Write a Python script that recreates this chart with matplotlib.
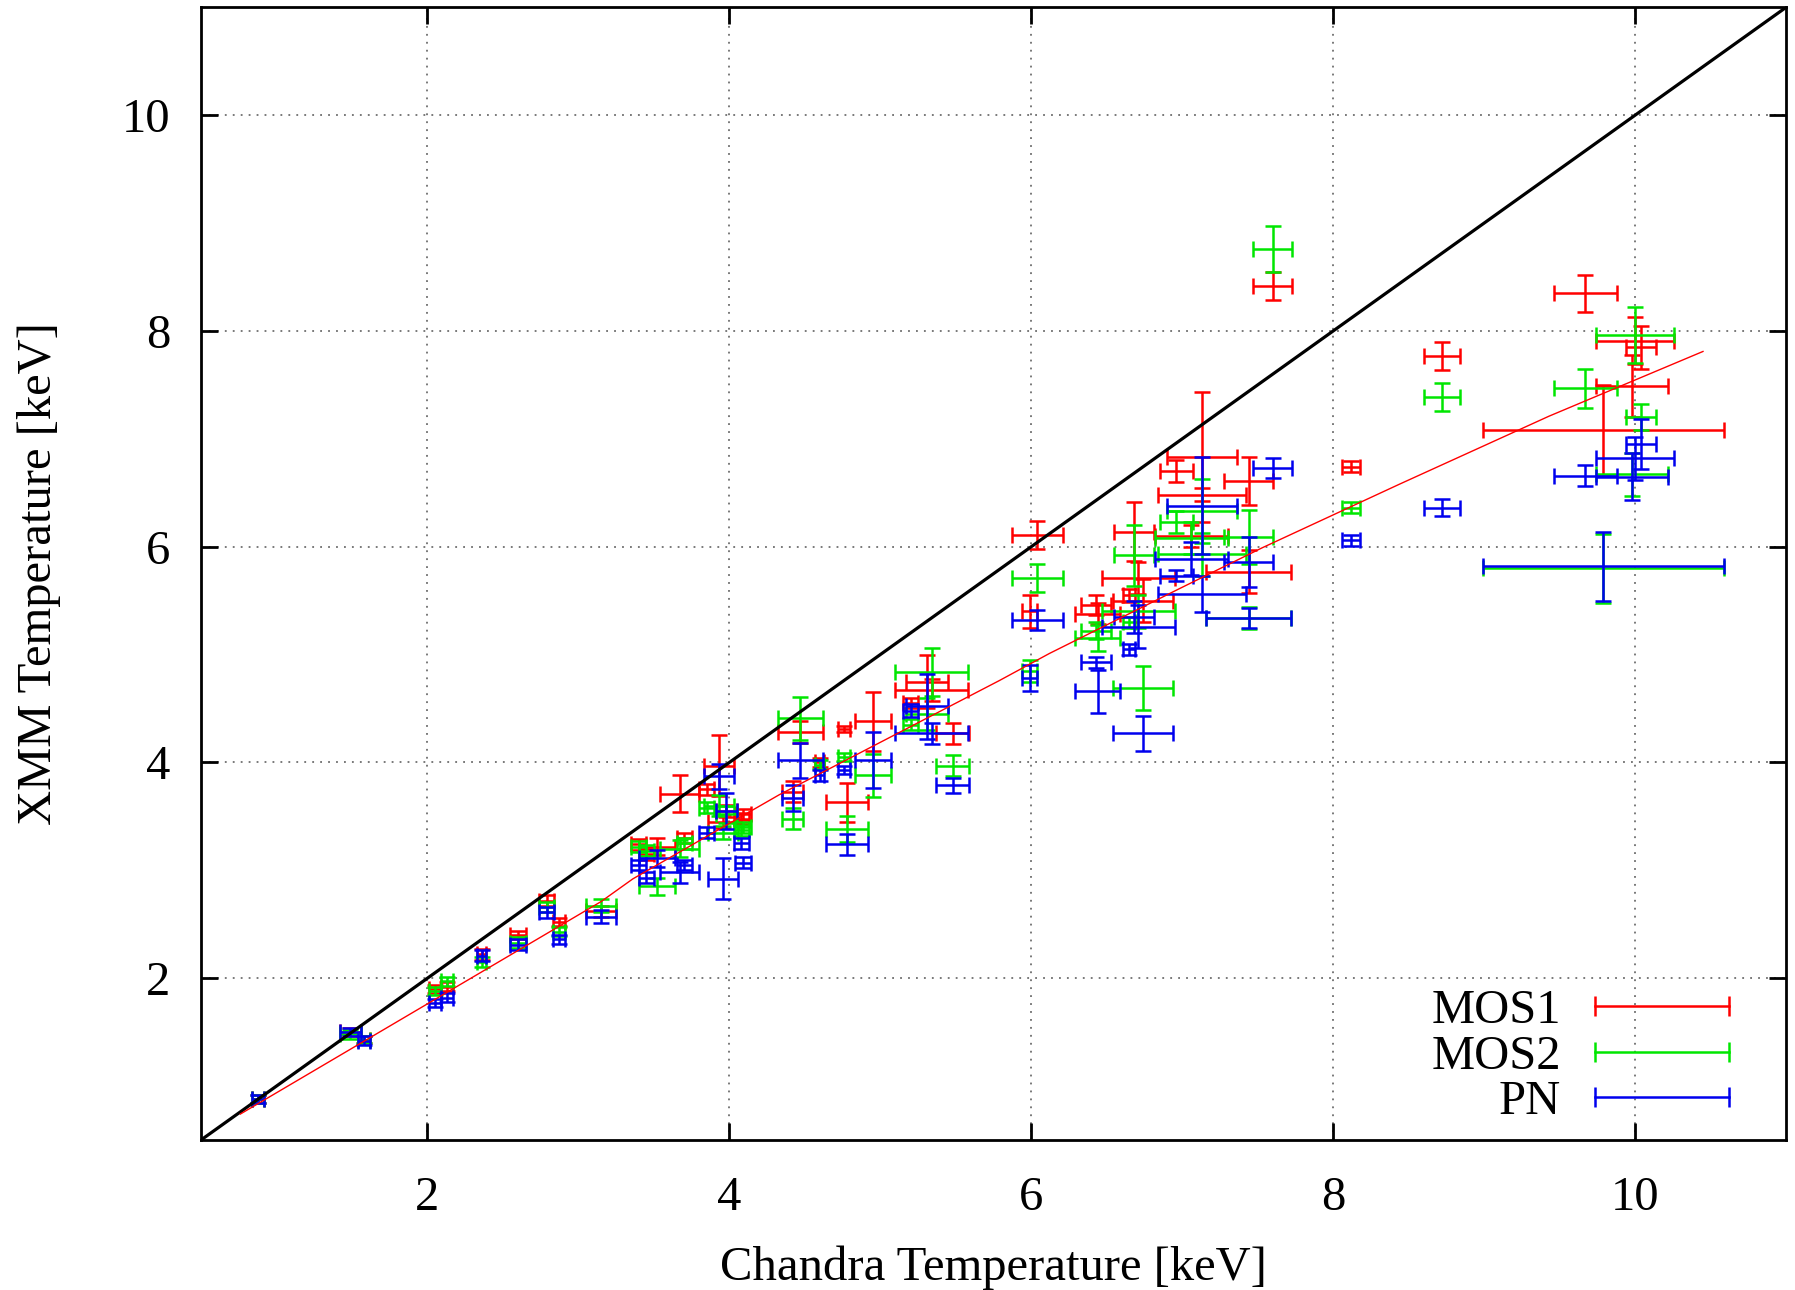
import matplotlib
matplotlib.use('Agg')
import matplotlib.pyplot as plt
from matplotlib.lines import Line2D
from matplotlib.legend_handler import HandlerLine2D

plt.rcParams['font.family'] = ['Liberation Serif', 'DejaVu Serif']

# Chandra temperature (keV) and its error, per cluster
chandra_T = [0.88, 1.49, 1.58, 2.05, 2.13, 2.36, 2.60, 2.79, 2.87, 3.15,
             3.40, 3.45, 3.52, 3.67, 3.70, 3.85, 3.93, 3.96, 3.98, 4.08,
             4.09, 4.42, 4.47, 4.60, 4.76, 4.78, 4.95, 5.20, 5.31, 5.34,
             5.48, 5.99, 6.04, 6.43, 6.44, 6.65, 6.68, 6.71, 6.74, 6.96,
             7.13, 7.13, 7.06, 7.44, 7.44, 7.60, 8.12, 8.72, 9.67, 10.00,
             9.98, 10.04, 9.79]
chandra_err = [0.04, 0.07, 0.04, 0.04, 0.04, 0.03, 0.05, 0.05, 0.04, 0.10,
               0.05, 0.05, 0.12, 0.13, 0.05, 0.05, 0.10, 0.10, 0.07, 0.05,
               0.05, 0.07, 0.15, 0.03, 0.04, 0.14, 0.12, 0.05, 0.14, 0.24,
               0.11, 0.05, 0.17, 0.10, 0.15, 0.04, 0.13, 0.24, 0.20, 0.11,
               0.23, 0.29, 0.24, 0.16, 0.28, 0.13, 0.06, 0.12, 0.21, 0.26,
               0.24, 0.10, 0.80]

# XMM MOS1
mos1_T = [0.88, 1.50, 1.43, 1.90, 1.92, 2.22, 2.40, 2.72, 2.52, 2.62,
          3.24, 3.15, 3.22, 3.71, 3.30, 3.75, 3.97, 3.45, 3.55, 3.48,
          3.52, 3.73, 4.28, 4.00, 4.31, 3.63, 4.38, 4.55, 4.75, 4.67,
          4.27, 5.40, 6.11, 5.46, 5.38, 5.55, 6.14, 5.71, 5.50, 6.70,
          6.83, 6.48, 6.10, 6.61, 5.77, 8.42, 6.74, 7.77, 8.35, 7.91,
          7.49, 7.85, 7.08]
mos1_err = [0.04, 0.04, 0.03, 0.04, 0.04, 0.05, 0.04, 0.05, 0.04, 0.05,
            0.05, 0.05, 0.08, 0.17, 0.05, 0.05, 0.28, 0.06, 0.06, 0.05,
            0.05, 0.10, 0.10, 0.04, 0.03, 0.18, 0.27, 0.05, 0.25, 0.10,
            0.10, 0.15, 0.13, 0.09, 0.10, 0.06, 0.27, 0.15, 0.20, 0.10,
            0.60, 0.06, 0.10, 0.22, 0.20, 0.13, 0.05, 0.13, 0.17, 0.22,
            0.29, 0.20, 0.42]

# XMM MOS2
mos2_T = [0.88, 1.48, 1.43, 1.88, 1.97, 2.15, 2.33, 2.66, 2.43, 2.67,
          3.22, 3.18, 2.85, 3.20, 3.25, 3.58, 3.60, 3.35, 3.52, 3.37,
          3.40, 3.48, 4.41, 3.98, 4.05, 3.38, 3.88, 4.35, 4.45, 4.84,
          3.97, 4.85, 5.71, 5.22, 5.15, 5.30, 5.92, 5.40, 4.69, 6.23,
          6.33, 5.93, 6.08, 6.09, 5.34, 8.76, 6.36, 7.39, 7.47, 7.96,
          6.67, 7.20, 5.80]
mos2_err = [0.04, 0.04, 0.03, 0.04, 0.04, 0.05, 0.05, 0.05, 0.04, 0.06,
            0.05, 0.05, 0.08, 0.08, 0.05, 0.05, 0.10, 0.06, 0.08, 0.05,
            0.05, 0.10, 0.20, 0.04, 0.04, 0.12, 0.20, 0.05, 0.15, 0.22,
            0.10, 0.10, 0.13, 0.08, 0.12, 0.05, 0.28, 0.15, 0.20, 0.10,
            0.30, 0.20, 0.15, 0.25, 0.10, 0.21, 0.05, 0.13, 0.18, 0.26,
            0.20, 0.12, 0.32]

# XMM PN
pn_T = [0.88, 1.50, 1.42, 1.77, 1.82, 2.21, 2.31, 2.61, 2.36, 2.57,
        3.05, 2.93, 3.11, 2.98, 3.05, 3.35, 3.87, 2.92, 3.55, 3.25,
        3.07, 3.67, 4.02, 3.88, 3.93, 3.24, 4.02, 4.48, 4.52, 4.27,
        3.79, 4.78, 5.32, 4.93, 4.66, 5.05, 5.35, 5.26, 4.27, 5.73,
        6.38, 5.56, 5.89, 5.86, 5.34, 6.73, 6.06, 6.36, 6.66, 6.82,
        6.65, 6.95, 5.82]
pn_err = [0.04, 0.04, 0.04, 0.04, 0.04, 0.05, 0.05, 0.05, 0.04, 0.06,
          0.05, 0.05, 0.08, 0.10, 0.05, 0.05, 0.12, 0.19, 0.17, 0.05,
          0.05, 0.12, 0.16, 0.05, 0.04, 0.10, 0.26, 0.06, 0.30, 0.10,
          0.07, 0.12, 0.09, 0.05, 0.20, 0.05, 0.15, 0.20, 0.16, 0.05,
          0.45, 0.17, 0.15, 0.23, 0.09, 0.09, 0.05, 0.08, 0.10, 0.20,
          0.22, 0.23, 0.32]

# fitted relation
fit_x = [0.76, 3.15, 3.36, 4.33, 5.79, 6.12, 6.98, 7.53, 8.44, 9.43, 10.45]
fit_y = [0.74, 2.71, 2.92, 3.70, 4.76, 5.01, 5.61, 5.99, 6.58, 7.21, 7.81]

labels = ['MOS1', 'MOS2', 'PN']
colors = ['#ff0000', '#00e600', '#0000ee']

FS = 35

fig = plt.figure(figsize=(17.95, 12.9), dpi=100)
ax = fig.add_axes([0.112, 0.1163, 0.883, 0.878])

series = [(mos1_T, mos1_err), (mos2_T, mos2_err), (pn_T, pn_err)]
for (vals, errs), c in zip(series, colors):
    ax.errorbar(chandra_T, vals, xerr=chandra_err, yerr=errs, fmt='none',
                ecolor=c, elinewidth=1.8, capsize=6, capthick=1.8, zorder=3)

lim = [0.5, 11]
ax.plot(lim, lim, color='black', lw=2.3, zorder=5)
ax.plot(fit_x, fit_y, color='#ff0000', lw=1.0, zorder=5)

ax.set_xlim(*lim)
ax.set_ylim(*lim)
ticks = [2, 4, 6, 8, 10]
ax.set_xticks(ticks)
ax.set_yticks(ticks)
ax.grid(True, linestyle=(0, (1.2, 4)), color='#555555', lw=1.1, zorder=0)
ax.tick_params(axis='both', direction='in', length=12, width=2,
               top=True, right=True, labelsize=FS)
ax.tick_params(axis='x', pad=26)
ax.tick_params(axis='y', pad=22)
for s in ax.spines.values():
    s.set_linewidth(2)

ax.set_xlabel('Chandra Temperature [keV]', fontsize=FS, labelpad=18)
ax.set_ylabel('XMM Temperature [keV]', fontsize=FS, labelpad=44)

handles = [Line2D([0], [0], color=c, lw=1.8, marker='|', markersize=14,
                  markeredgewidth=1.8) for c in colors]
ax.legend(handles, labels, loc='lower right', bbox_to_anchor=(0.964, 0.014),
          numpoints=2, markerfirst=False,
          frameon=False, fontsize=FS, handlelength=2.75, handletextpad=0.7,
          labelspacing=0.03, borderaxespad=0.0, borderpad=0.0,
          handler_map={Line2D: HandlerLine2D(marker_pad=0)})

fig.savefig('out.png', dpi=100)
